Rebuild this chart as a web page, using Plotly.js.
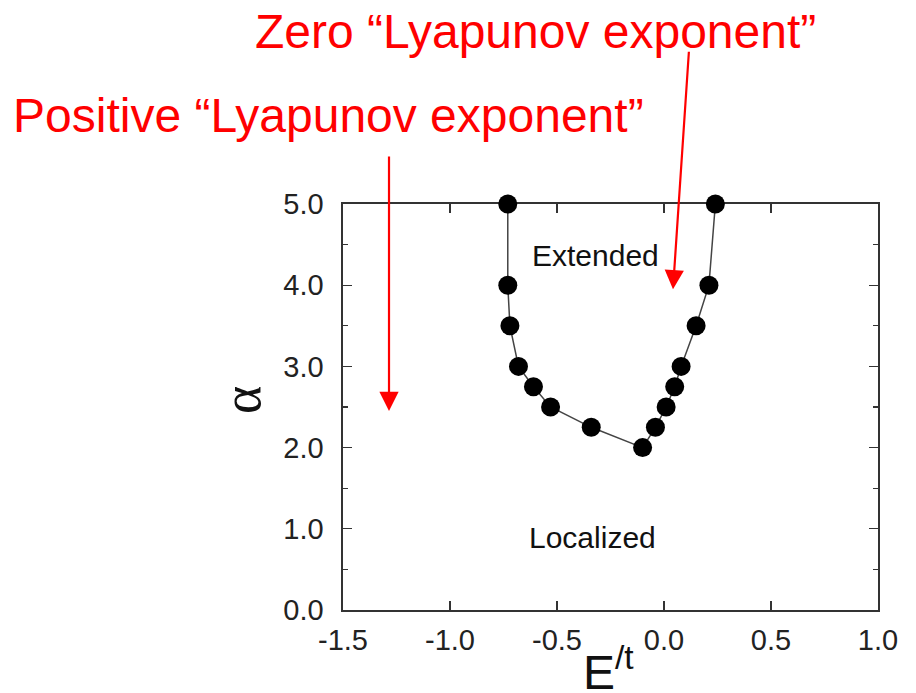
<!DOCTYPE html>
<html>
<head>
<meta charset="utf-8">
<script src="https://cdn.plot.ly/plotly-3.0.1.min.js"></script>
<style>html,body{margin:0;padding:0;background:#fff;}#chart{width:916px;height:693px;}</style>
</head>
<body>
<div id="chart"></div>
<script>
// Mobility edge: energy E/t vs alpha
const energy = [-0.73, -0.73, -0.72, -0.68, -0.61, -0.53, -0.34, -0.10, -0.04, 0.01, 0.05, 0.08, 0.15, 0.21, 0.24];
const alpha  = [5.0, 4.0, 3.5, 3.0, 2.75, 2.5, 2.25, 2.0, 2.25, 2.5, 2.75, 3.0, 3.5, 4.0, 5.0];
const xTickVals = [-1.5, -1.0, -0.5, 0.0, 0.5, 1.0];
const xTickText = ['-1.5', '-1.0', '-0.5', '0.0', '0.5', '1.0'];
const yTickVals = [0, 1, 2, 3, 4, 5];
const yTickText = ['0.0', '1.0', '2.0', '3.0', '4.0', '5.0'];
const regionLabels = ["Extended", "Localized"];
const calloutLabels = ["Positive “Lyapunov exponent”", "Zero “Lyapunov exponent”"];

const sans = "Arial, 'Liberation Sans', sans-serif";
const axisCommon = {
  showline: true, linecolor: '#333', linewidth: 1.6, mirror: 'ticks',
  ticks: 'inside', tickcolor: '#333', tickwidth: 1.4, ticklen: 9,
  showgrid: false, zeroline: false, layer: 'below traces',
  tickfont: {family: sans, size: 29, color: '#222'}
};

const trace = {
  x: energy, y: alpha, type: 'scatter', mode: 'lines+markers',
  line: {color: '#444', width: 1.5},
  marker: {color: '#000', size: 19},
  cliponaxis: false, hoverinfo: 'skip'
};

const layout = {
  width: 916, height: 693,
  margin: {l: 343, r: 38, t: 204, b: 83},
  paper_bgcolor: '#fff', plot_bgcolor: '#fff',
  showlegend: false,
  xaxis: Object.assign({}, axisCommon, {
    range: [-1.5, 1.0], tickvals: xTickVals, ticktext: xTickText, ticklabelstandoff: 4
  }),
  yaxis: Object.assign({}, axisCommon, {
    range: [0, 5], tickvals: yTickVals, ticktext: yTickText, ticklabelstandoff: 12,
    minor: {dtick: 0.5, ticks: 'inside', ticklen: 5, tickcolor: '#333', tickwidth: 1.4, showgrid: false}
  }),
  annotations: [
    {x: -0.318, y: 4.37, xref: 'x', yref: 'y', text: regionLabels[0], showarrow: false,
     xanchor: 'center', yanchor: 'middle', font: {family: sans, size: 30, color: '#111'}},
    {x: -0.336, y: 0.89, xref: 'x', yref: 'y', text: regionLabels[1], showarrow: false,
     xanchor: 'center', yanchor: 'middle', font: {family: sans, size: 30, color: '#111'}},
    {x: 328, y: 115, xref: 'paper', yref: 'paper', text: calloutLabels[0], showarrow: false,
     xanchor: 'center', yanchor: 'middle', font: {family: sans, size: 48, color: '#ff0000'}},
    {x: 535, y: 31, xref: 'paper', yref: 'paper', text: calloutLabels[1], showarrow: false,
     xanchor: 'center', yanchor: 'middle', font: {family: sans, size: 48, color: '#ff0000'}},
    // arrows
    {x: -1.285, y: 2.45, xref: 'x', yref: 'y', text: '', showarrow: true,
     ax: 0, ay: -256, arrowhead: 2, arrowsize: 1.75, arrowwidth: 2.2, arrowcolor: '#ff0000', standoff: 0},
    {x: 0.042, y: 3.95, xref: 'x', yref: 'y', text: '', showarrow: true,
     ax: 16, ay: -239, arrowhead: 2, arrowsize: 1.75, arrowwidth: 2.2, arrowcolor: '#ff0000', standoff: 0},
    // axis titles
    {x: 242, y: 400, xref: 'paper', yref: 'paper', text: 'α', showarrow: false, textangle: -90,
     xanchor: 'center', yanchor: 'middle',
     font: {family: "'Liberation Serif', 'DejaVu Serif', serif", size: 54, color: '#111'}},
    {x: 581, y: 637, xref: 'paper', yref: 'paper', text: 'E<sup>/t</sup>', showarrow: false,
     xanchor: 'left', yanchor: 'top', font: {family: sans, size: 48, color: '#111'}}
  ]
};

// convert pixel-placed annotations (paper refs given in px) to paper fractions
const plotL = 343, plotW = 916 - 343 - 38, plotT = 204, plotH = 693 - 204 - 83;
layout.annotations.forEach(a => {
  if (a.xref === 'paper') {
    a.x = (a.x - plotL) / plotW;
    a.y = (plotT + plotH - a.y) / plotH;
  }
});

Plotly.newPlot('chart', [trace], layout, {staticPlot: true, displayModeBar: false});
</script>
</body>
</html>
